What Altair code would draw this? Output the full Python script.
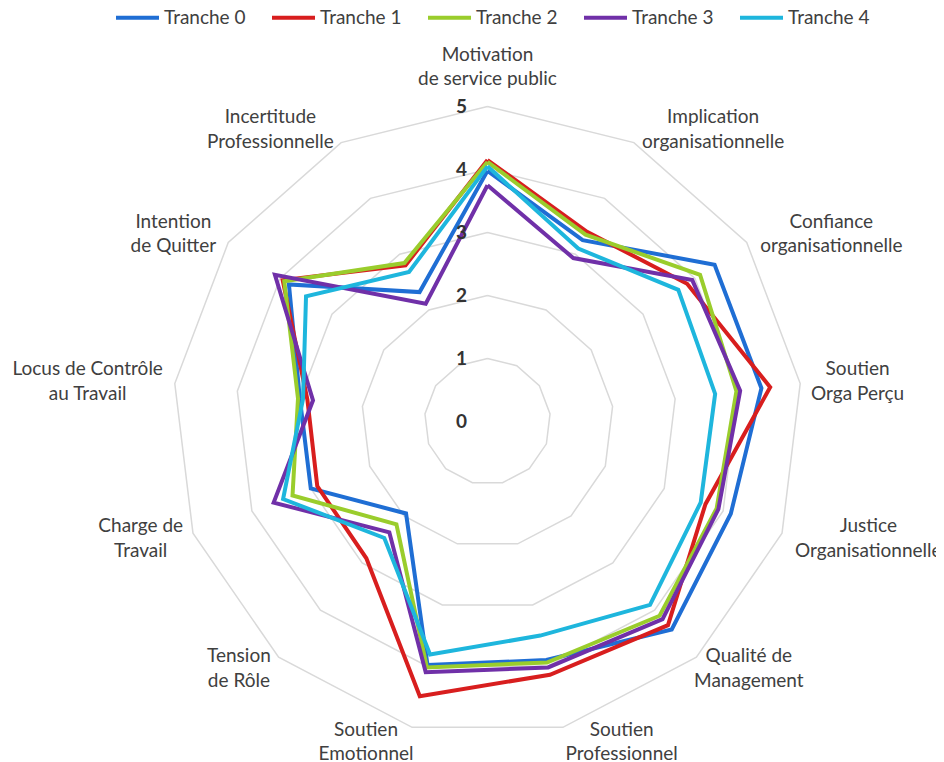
import math
import altair as alt
import pandas as pd

# ---------------- data ----------------
categories = [
    "Motivation\nde service public",
    "Implication\norganisationnelle",
    "Confiance\norganisationnelle",
    "Soutien\nOrga Perçu",
    "Justice\nOrganisationnelle",
    "Qualité de\nManagement",
    "Soutien\nProfessionnel",
    "Soutien\nEmotionnel",
    "Tension\nde Rôle",
    "Charge de\nTravail",
    "Locus de Contrôle\nau Travail",
    "Intention\nde Quitter",
    "Incertitude\nProfessionnelle",
]
series_names = ["Tranche 0", "Tranche 1", "Tranche 2", "Tranche 3", "Tranche 4"]
tranche0 = [3.98, 3.25, 4.38, 4.38, 4.13, 4.41, 3.90, 3.98, 1.95, 3.00, 3.00, 3.83, 2.32]
tranche1 = [4.15, 3.40, 3.85, 4.52, 3.70, 4.32, 4.14, 4.49, 2.90, 2.89, 2.88, 3.95, 2.80]
tranche2 = [4.12, 3.35, 4.10, 3.98, 3.89, 4.12, 3.94, 4.02, 2.18, 3.31, 3.03, 3.92, 2.84]
tranche3 = [3.75, 2.93, 3.95, 4.04, 3.92, 4.19, 4.02, 4.10, 2.35, 3.63, 2.79, 4.10, 2.11]
tranche4 = [4.05, 3.10, 3.68, 3.64, 3.62, 3.89, 3.50, 3.81, 2.47, 3.47, 2.95, 3.50, 2.68]
ring_levels = [1, 2, 3, 4, 5]
tick_labels = [0, 1, 2, 3, 4, 5]

# ---------------- style / layout ----------------
colors = ["#1F6ED4", "#D81E1E", "#9ACD2C", "#7030A8", "#1EB6DD"]
FONT = "Lato"
N = len(categories)
RMAX = 5
PX = 63.0              # pixels per unit
W, H = 928, 752        # plot area
CX, CY = 479.5, 413.5  # centre inside the plot area (px)
LINE_H = 24.5
xmin = -CX / PX
xmax = xmin + W / PX
ymax = CY / PX
ymin = ymax - H / PX

xs = alt.Scale(domain=[xmin, xmax], nice=False, zero=False)
ys = alt.Scale(domain=[ymin, ymax], nice=False, zero=False)
X = alt.X("px:Q", scale=xs, axis=None)
Y = alt.Y("py:Q", scale=ys, axis=None)

# series data (long form, polygon closed by repeating first point)
all_vals = [tranche0, tranche1, tranche2, tranche3, tranche4]
rows = []
for name, vals in zip(series_names, all_vals):
    for k in range(N + 1):
        rows.append({"series": name, "k": k, "value": vals[k % N]})
series_df = pd.DataFrame(rows)

ring_df = pd.DataFrame([{"level": L, "k": k} for L in ring_levels for k in range(N + 1)])
tick_df = pd.DataFrame({"level": tick_labels})

# category label anchors derived from the angle and text length
lab_rows = []
gap = 15 / PX
for k, cat in enumerate(categories):
    th = 2 * math.pi * k / N
    s, c = math.sin(th), math.cos(th)
    lines = cat.split("\n")
    hw = max(len(l) for l in lines) * 8.5 / 2 / PX
    hh = len(lines) * LINE_H / 2 / PX
    lx = RMAX * s + gap * s + (math.copysign(hw, s) if abs(s) > 1e-6 else 0)
    ly = RMAX * c + gap * c + (math.copysign(hh, c) if abs(s) < 1e-6 else 0)
    ly += (len(lines) - 1) * LINE_H / 2 / PX   # first line sits at the anchor
    lab_rows.append({"label": cat, "px": lx, "py": ly})
lab_df = pd.DataFrame(lab_rows)

angle = f"2*PI*datum.k/{N}"

rings = alt.Chart(ring_df).transform_calculate(
    px=f"datum.level*sin({angle})", py=f"datum.level*cos({angle})"
).mark_line(stroke="#D9D9D9", strokeWidth=1.5).encode(
    x=X, y=Y, detail="level:N", order="k:Q"
)

lines = alt.Chart(series_df).transform_calculate(
    px=f"datum.value*sin({angle})", py=f"datum.value*cos({angle})"
).mark_line(strokeWidth=4, strokeJoin="miter").encode(
    x=X, y=Y, order="k:Q",
    color=alt.Color(
        "series:N",
        scale=alt.Scale(domain=series_names, range=colors),
        legend=alt.Legend(
            title=None, orient="none", legendX=106, legendY=-14,
            direction="horizontal", symbolType="stroke", symbolStrokeWidth=4,
            symbolSize=1849, labelFont=FONT, labelFontSize=19, labelColor="#404040",
            labelOffset=3, columnPadding=18,
        ),
    ),
)

ticks = alt.Chart(tick_df).transform_calculate(px="0", py="datum.level").mark_text(
    dx=-26, align="center", baseline="middle", font=FONT, fontSize=19,
    fontWeight="bold", color="#333333"
).encode(x=X, y=Y, text="level:Q")

labels = alt.Chart(lab_df).mark_text(
    lineBreak="\n", align="center", baseline="middle", font=FONT, fontSize=19,
    color="#404040", lineHeight=LINE_H
).encode(x=X, y=Y, text="label:N")

chart = alt.layer(rings, lines, ticks, labels).properties(
    width=W, height=H, padding=0, autosize=alt.AutoSizeParams(type="none"),
    background="white"
).configure_view(stroke=None)

chart.save("out.html", embed_options={"renderer": "svg", "actions": False})
